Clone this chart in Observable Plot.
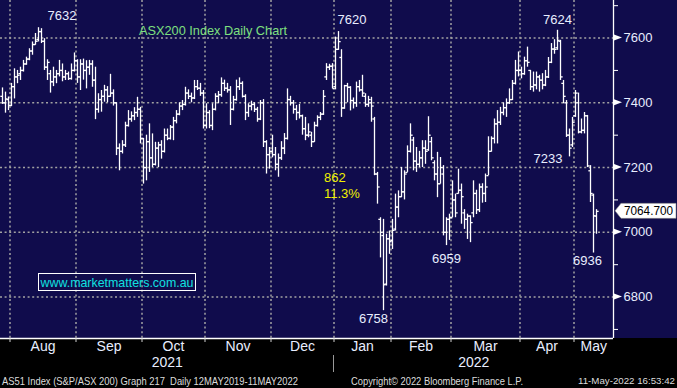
<!DOCTYPE html>
<html><head><meta charset="utf-8">
<script src="https://cdn.jsdelivr.net/npm/d3@7"></script>
<script src="https://cdn.jsdelivr.net/npm/@observablehq/plot@0.6"></script>
<style>
body{margin:0;background:#000;}
#wrap{position:relative;width:677px;height:388px;background:linear-gradient(#100c4c 0,#100c4c 338px,#000 338px);overflow:hidden;font-family:"Liberation Sans",Arial,sans-serif;}
#wrap svg{position:absolute;left:0;top:0;}
</style></head><body><div id="wrap"></div>
<script>
// ---- data (ASX200 daily OHLC) ----
const dates = [
"2021-07-28","2021-07-29","2021-07-30",
"2021-08-02","2021-08-03","2021-08-04","2021-08-05","2021-08-06","2021-08-09","2021-08-10","2021-08-11","2021-08-12","2021-08-13","2021-08-16","2021-08-17","2021-08-18","2021-08-19","2021-08-20","2021-08-23","2021-08-24","2021-08-25","2021-08-26","2021-08-27","2021-08-30","2021-08-31",
"2021-09-01","2021-09-02","2021-09-03","2021-09-06","2021-09-07","2021-09-08","2021-09-09","2021-09-10","2021-09-13","2021-09-14","2021-09-15","2021-09-16","2021-09-17","2021-09-20","2021-09-21","2021-09-22","2021-09-23","2021-09-24","2021-09-27","2021-09-28","2021-09-29","2021-09-30",
"2021-10-01","2021-10-04","2021-10-05","2021-10-06","2021-10-07","2021-10-08","2021-10-11","2021-10-12","2021-10-13","2021-10-14","2021-10-15","2021-10-18","2021-10-19","2021-10-20","2021-10-21","2021-10-22","2021-10-25","2021-10-26","2021-10-27","2021-10-28","2021-10-29",
"2021-11-01","2021-11-02","2021-11-03","2021-11-04","2021-11-05","2021-11-08","2021-11-09","2021-11-10","2021-11-11","2021-11-12","2021-11-15","2021-11-16","2021-11-17","2021-11-18","2021-11-19","2021-11-22","2021-11-23","2021-11-24","2021-11-25","2021-11-26","2021-11-29","2021-11-30",
"2021-12-01","2021-12-02","2021-12-03","2021-12-06","2021-12-07","2021-12-08","2021-12-09","2021-12-10","2021-12-13","2021-12-14","2021-12-15","2021-12-16","2021-12-17","2021-12-20","2021-12-21","2021-12-22","2021-12-23","2021-12-24","2021-12-29","2021-12-30","2021-12-31",
"2022-01-04","2022-01-05","2022-01-06","2022-01-07","2022-01-10","2022-01-11","2022-01-12","2022-01-13","2022-01-14","2022-01-17","2022-01-18","2022-01-19","2022-01-20","2022-01-21","2022-01-24","2022-01-25","2022-01-27","2022-01-28","2022-01-31",
"2022-02-01","2022-02-02","2022-02-03","2022-02-04","2022-02-07","2022-02-08","2022-02-09","2022-02-10","2022-02-11","2022-02-14","2022-02-15","2022-02-16","2022-02-17","2022-02-18","2022-02-21","2022-02-22","2022-02-23","2022-02-24","2022-02-25","2022-02-28",
"2022-03-01","2022-03-02","2022-03-03","2022-03-04","2022-03-07","2022-03-08","2022-03-09","2022-03-10","2022-03-11","2022-03-14","2022-03-15","2022-03-16","2022-03-17","2022-03-18","2022-03-21","2022-03-22","2022-03-23","2022-03-24","2022-03-25","2022-03-28","2022-03-29","2022-03-30","2022-03-31",
"2022-04-01","2022-04-04","2022-04-05","2022-04-06","2022-04-07","2022-04-08","2022-04-11","2022-04-12","2022-04-13","2022-04-14","2022-04-19","2022-04-20","2022-04-21","2022-04-22","2022-04-26","2022-04-27","2022-04-28","2022-04-29",
"2022-05-02","2022-05-03","2022-05-04","2022-05-05","2022-05-06","2022-05-09","2022-05-10","2022-05-11"
];
const open = [
7420,7400,7410,
7392,7450,7480,7490,7500,7520,7535,7560,7580,7595,7620,7590,7510,7490,7465,7480,7490,7500,7480,7490,7475,7500,
7530,7480,7520,7500,7510,7520,7470,7380,7410,7420,7440,7420,7430,7400,7260,7250,7270,7330,7350,7360,7370,7380,
7290,7200,7280,7230,7210,7260,7270,7250,7300,7290,7325,7345,7365,7390,7395,7430,7420,7415,7450,7445,7430,
7330,7370,7330,7380,7420,7425,7460,7445,7440,7380,7410,7450,7460,7420,7370,7390,7395,7380,7350,7400,7280,7240,
7250,7240,7210,7230,7260,7290,7410,7400,7380,7370,7360,7320,7300,7300,7280,7330,7355,7365,7480,7510,7513,
7450,7565,7540,7384,7453,7448,7407,7400,7450,7440,7420,7395,7400,7350,7180,7040,6990,6840,6980,
6975,7010,7078,7110,7125,7185,7250,7285,7220,7210,7230,7260,7255,7280,7215,7180,7150,7180,7000,7040,
7045,7100,7120,7130,7060,7040,7050,7060,7120,7070,7140,7120,7175,7250,7290,7335,7340,7370,7385,7400,7410,7460,7500,
7500,7490,7530,7500,7450,7455,7480,7470,7455,7480,7525,7566,7570,7590,7460,7400,7300,7270,
7360,7400,7310,7315,7360,7190,7115,7050
];
const high = [
7446,7433,7418,
7460,7505,7500,7510,7531,7541,7567,7588,7614,7632,7629,7598,7533,7500,7510,7500,7531,7520,7500,7495,7520,7554,
7533,7533,7535,7530,7531,7530,7510,7428,7438,7454,7450,7488,7440,7400,7273,7283,7340,7376,7372,7385,7417,7386,
7290,7300,7335,7304,7278,7278,7283,7319,7319,7330,7355,7376,7400,7407,7448,7440,7430,7469,7469,7460,7438,
7397,7376,7397,7428,7435,7477,7470,7460,7450,7420,7470,7477,7465,7425,7397,7405,7400,7386,7407,7410,7283,7262,
7300,7262,7242,7280,7305,7443,7420,7407,7392,7395,7362,7355,7335,7309,7340,7360,7370,7438,7521,7519,7521,
7603,7620,7564,7454,7460,7450,7415,7464,7469,7485,7428,7420,7417,7355,7185,7045,7040,6994,7004,
7040,7118,7128,7200,7190,7267,7335,7293,7262,7250,7283,7283,7357,7293,7221,7247,7231,7206,7045,7056,
7159,7118,7195,7149,7070,7056,7051,7159,7130,7149,7150,7180,7295,7295,7350,7376,7386,7400,7412,7443,7469,7531,7557,
7510,7541,7572,7500,7495,7495,7485,7490,7500,7540,7583,7595,7624,7593,7469,7407,7319,7355,
7438,7430,7350,7370,7361,7206,7118,7070
];
const low = [
7395,7368,7376,
7388,7412,7459,7469,7495,7516,7530,7547,7578,7588,7583,7500,7469,7430,7450,7459,7480,7465,7469,7469,7470,7495,
7460,7438,7470,7443,7485,7448,7348,7368,7371,7402,7400,7417,7390,7237,7190,7242,7262,7325,7340,7345,7355,7273,
7149,7159,7185,7200,7205,7200,7226,7245,7283,7285,7283,7335,7360,7376,7390,7410,7400,7410,7438,7420,7319,
7319,7320,7314,7375,7397,7417,7435,7430,7330,7375,7405,7438,7415,7345,7355,7375,7370,7340,7345,7262,7180,7195,
7230,7190,7170,7222,7240,7285,7390,7365,7345,7350,7300,7283,7292,7262,7278,7325,7345,7361,7469,7500,7443,
7440,7562,7355,7380,7400,7375,7381,7386,7433,7417,7386,7386,7340,7175,7087,6921,6758,6834,6932,
6947,7004,7045,7107,7100,7185,7245,7190,7185,7200,7200,7210,7250,7221,7159,7107,7149,6989,6959,6975,
7045,7045,7118,7025,7009,6978,6968,7045,7055,7061,7090,7092,7175,7248,7273,7273,7330,7360,7355,7395,7407,7455,7480,
7474,7485,7510,7438,7433,7440,7433,7440,7450,7475,7521,7550,7562,7469,7397,7293,7233,7262,
7355,7304,7304,7304,7200,7092,6936,6994
];
const close = [
7400,7412,7392,
7450,7480,7485,7500,7520,7535,7560,7580,7590,7620,7590,7510,7525,7465,7480,7490,7500,7480,7490,7475,7500,7530,
7480,7520,7500,7510,7520,7470,7380,7410,7420,7440,7420,7430,7400,7260,7250,7270,7330,7350,7360,7370,7380,7290,
7200,7280,7230,7210,7260,7270,7250,7300,7290,7325,7345,7365,7390,7395,7430,7420,7415,7450,7445,7430,7330,
7370,7330,7380,7420,7425,7460,7445,7440,7380,7410,7450,7460,7420,7370,7390,7395,7380,7350,7400,7280,7240,7250,
7240,7210,7230,7260,7290,7410,7400,7380,7370,7360,7320,7300,7310,7280,7330,7355,7365,7420,7510,7513,7444,
7565,7589,7384,7453,7448,7407,7400,7450,7440,7430,7395,7410,7390,7180,7140,7000,6838,6980,6971,
7006,7078,7110,7125,7180,7250,7300,7220,7210,7230,7260,7250,7300,7230,7180,7150,7200,7000,7040,7045,
7100,7060,7130,7110,7040,7050,7030,7120,7070,7140,7120,7140,7250,7290,7335,7340,7370,7385,7400,7410,7460,7500,7500,
7490,7530,7525,7450,7455,7480,7470,7455,7480,7525,7566,7565,7593,7480,7420,7300,7260,7340,
7430,7310,7315,7360,7205,7120,7051,7064.7
];
const yTicks = [6800, 7000, 7200, 7400, 7600];
const yMinorTicks = [6700, 6900, 7100, 7300, 7500, 7700];
const monthLabels = ["Aug","Sep","Oct","Nov","Dec","Jan","Feb","Mar","Apr","May"];
const yearLabels = ["2021","2022"];
const annDates = ["2021-08-13","2022-01-05","2022-04-21","2022-04-28","2022-01-27","2022-02-25","2022-05-10"];
const annValues = [7632, 7620, 7624, 7233, 6758, 6959, 6936];

// ---- layout ----
const W = 677, H = 388, mR = 64, mB = 50;
const n = dates.length;
const data = dates.map((d, i) => ({i, date: d, open: open[i], high: high[i], low: low[i], close: close[i]}));
const xDomain = [-2/3, n - 1 + 17/3];
const yDomain = [6672, 7716];

const bounds = [];
for (let i = 1; i < n; i++) if (dates[i].slice(0,7) !== dates[i-1].slice(0,7)) bounds.push(i - 0.5);
const edges = [...bounds, xDomain[1]];
const monthCenters = bounds.map((b, k) => (b + edges[k + 1]) / 2);
const monthOf = new Map(monthCenters.map((c, k) => [c, monthLabels[k]]));
const janBound = bounds.find(b => dates[b + 0.5].startsWith(yearLabels[1]));
const yearCenters = [(xDomain[0] + janBound) / 2, (janBound + xDomain[1]) / 2];
const yearOf = new Map(yearCenters.map((c, k) => [c, yearLabels[k]]));

const light = "#e8eeff";
const grid = {stroke: "#a2a2a2", strokeWidth: 1.5, strokeDasharray: "2,2.6"};
const bar = {stroke: "white", strokeWidth: 1.3};
const annStyle = [
  {textAnchor: "start", dx: 9, dy: -12},
  {textAnchor: "start", dx: -1, dy: -12},
  {textAnchor: "middle", dx: 0, dy: -10},
  {textAnchor: "end", dx: -7, dy: 2},
  {textAnchor: "middle", dx: -10, dy: 8},
  {textAnchor: "middle", dx: 0, dy: 13},
  {textAnchor: "middle", dx: -6, dy: 8}
];
const annMarks = annDates.map((d, k) => Plot.text([{i: dates.indexOf(d), v: annValues[k]}], {
  x: "i", y: "v", text: r => String(r.v), fill: light, fontSize: 13, ...annStyle[k]
}));

const plot = Plot.plot({
  width: W, height: H,
  marginLeft: 0, marginRight: mR, marginTop: 0, marginBottom: mB,
  x: {domain: xDomain},
  y: {domain: yDomain},
  style: {background: "transparent", fontFamily: "'Liberation Sans', Arial, sans-serif", fontSize: "13px", color: light, overflow: "visible"},
  marks: [
    Plot.ruleY(yTicks, grid),
    Plot.ruleX(bounds, grid),
    Plot.ruleX(data, {x: "i", y1: "low", y2: "high", ...bar}),
    Plot.link(data, {x1: d => d.i - 0.72, x2: "i", y1: "open", y2: "open", ...bar}),
    Plot.link(data, {x1: "i", x2: d => d.i + 0.72, y1: "close", y2: "close", ...bar}),
    Plot.ruleY([yDomain[0]], {stroke: "white", strokeWidth: 1.5}),
    Plot.ruleX([xDomain[1]], {stroke: "white", strokeWidth: 1.3}),
    Plot.axisY({anchor: "right", ticks: yTicks, tickSize: 0, tickPadding: 10, tickFormat: d => String(d), fill: light, fontSize: 13, label: null}),
    Plot.axisY({anchor: "right", ticks: yMinorTicks, tickSize: 4, tickFormat: () => "", stroke: "white", label: null}),
    Plot.axisX({ticks: bounds, tickSize: 4, tickFormat: () => "", stroke: "#d0d0d0", label: null}),
    Plot.axisX({ticks: monthCenters, tickSize: 0, tickPadding: 3, tickFormat: d => monthOf.get(d), fill: light, fontSize: 14, label: null}),
    Plot.axisX({ticks: yearCenters, tickSize: 0, tickPadding: 19, tickFormat: d => yearOf.get(d), fill: light, fontSize: 14, label: null}),
    ...annMarks
  ]
});
const wrap = document.getElementById("wrap");
wrap.appendChild(plot);

// ---- overlay: axis markers, last price, notes, footer ----
const sx = plot.scale("x"), sy = plot.scale("y");
const xR = sx.apply(xDomain[1]);
const ov = d3.select(wrap).append("svg").attr("width", W).attr("height", H)
  .style("font-family", "'Liberation Sans', Arial, sans-serif");
yTicks.forEach(v => {
  const y = sy.apply(v);
  ov.append("polygon").attr("points", `${xR+1},${y-3} ${xR+1},${y+3} ${xR+9},${y}`).attr("fill", "white");
});
const last = close[n - 1];
const ly = sy.apply(last);
ov.append("polygon")
  .attr("points", `${xR+2},${ly} ${xR+8},${ly-7.5} ${W-1},${ly-7.5} ${W-1},${ly+7.5} ${xR+8},${ly+7.5}`)
  .attr("fill", "white").attr("stroke", "#888").attr("stroke-width", 0.6);
ov.append("text").attr("x", xR + 11).attr("y", ly).attr("dy", "0.36em").attr("font-size", 12.5)
  .attr("fill", "black").attr("textLength", 49).attr("lengthAdjust", "spacingAndGlyphs").text(last.toFixed(3));
const jx = sx.apply(janBound);
ov.append("line").attr("x1", jx).attr("x2", jx).attr("y1", H - 33).attr("y2", H - 16).attr("stroke", "#999").attr("stroke-width", 1);

// title
ov.append("text").attr("x", 139).attr("y", 30).attr("dy", "0.36em").attr("font-size", 13)
  .attr("fill", "#7fe07f").attr("textLength", 148).attr("lengthAdjust", "spacingAndGlyphs").text("ASX200 Index Daily Chart");
// range note from the 7620 high to the 6758 low
const drop = annValues[1] - annValues[4];
const noteX = sx.apply(dates.indexOf(annDates[1])) - 14;
ov.append("text").attr("x", noteX).attr("y", 177).attr("dy", "0.36em")
  .attr("font-size", 13).attr("fill", "#f0f000").text(String(drop));
ov.append("text").attr("x", noteX).attr("y", 193).attr("dy", "0.36em")
  .attr("font-size", 13).attr("fill", "#f0f000").text((drop / annValues[1] * 100).toFixed(1) + "%");
// website box
ov.append("rect").attr("x", 38.5).attr("y", 273.5).attr("width", 157).attr("height", 17)
  .attr("fill", "none").attr("stroke", "white").attr("stroke-width", 1);
ov.append("text").attr("x", 40.5).attr("y", 282.5).attr("dy", "0.36em").attr("font-size", 13)
  .attr("fill", "#10e0e0").attr("textLength", 153).attr("lengthAdjust", "spacingAndGlyphs").text("www.marketmatters.com.au");
// footer
const foot = [
  {x: 2, a: "start", t: "AS51 Index (S&P/ASX 200) Graph 217  Daily 12MAY2019-11MAY2022", len: 296, fs: 10.5},
  {x: 351, a: "start", t: "Copyright\u00A9 2022 Bloomberg Finance L.P.", len: 172, fs: 10.5},
  {x: 675, a: "end", t: "11-May-2022 16:53:42", len: 97, fs: 9}
];
foot.forEach(f => ov.append("text").attr("x", f.x).attr("y", 381).attr("dy", "0.36em").attr("font-size", f.fs)
  .attr("text-anchor", f.a)
  .attr("fill", "#dcdcdc").attr("textLength", f.len).attr("lengthAdjust", "spacingAndGlyphs").attr("xml:space", "preserve").text(f.t));
</script></body></html>
